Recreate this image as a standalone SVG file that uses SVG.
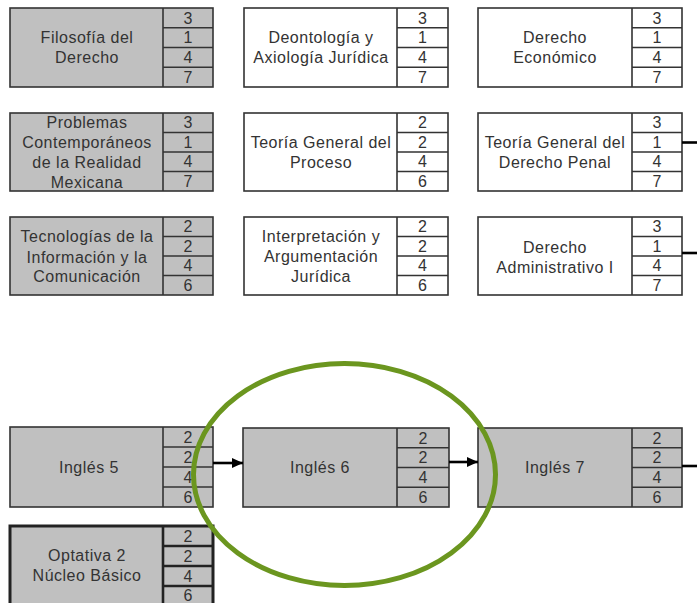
<svg xmlns="http://www.w3.org/2000/svg" width="697" height="603" viewBox="0 0 697 603">
<defs>
<style>
.g{fill:#c0c0c0}
.w{fill:#ffffff}
.bx{stroke:#333;stroke-width:1.6}
.thick{stroke:#222;stroke-width:3}
.dv{stroke:#333;stroke-width:1.6;fill:none}
text{font-family:"Liberation Sans",Arial,sans-serif;fill:#333;font-size:16px;letter-spacing:0.5px;text-anchor:middle}
.n{font-size:16px;letter-spacing:0}
.con{stroke:#000;stroke-width:2.6;fill:none}
</style>
<marker id="ah" markerUnits="userSpaceOnUse" markerWidth="12" markerHeight="10" refX="11" refY="5" orient="auto">
<path d="M0,0 L11,5 L0,10 z" fill="#000"/>
</marker>
</defs>
<rect width="697" height="603" fill="#fff"/>

<g id="n-filosofia">
<rect class="g bx" x="10" y="8" width="203" height="79"/>
<path class="dv" d="M163,8V87M163,27.75H213M163,47.5H213M163,67.25H213"/>
<text x="87" y="42.5">Filosofía del</text><text x="87" y="62.5">Derecho</text>
<text class="n" x="188" y="23.6">3</text><text class="n" x="188" y="43.3">1</text><text class="n" x="188" y="63.1">4</text><text class="n" x="188" y="82.8">7</text>
</g>

<g id="n-deontologia">
<rect class="w bx" x="244" y="8" width="204" height="79"/>
<path class="dv" d="M397,8V87M397,27.75H448M397,47.5H448M397,67.25H448"/>
<text x="321" y="42.5">Deontología y</text><text x="321" y="62.5">Axiología Jurídica</text>
<text class="n" x="422.5" y="23.6">3</text><text class="n" x="422.5" y="43.3">1</text><text class="n" x="422.5" y="63.1">4</text><text class="n" x="422.5" y="82.8">7</text>
</g>

<g id="n-economico">
<rect class="w bx" x="478" y="8" width="204" height="79"/>
<path class="dv" d="M632,8V87M632,27.75H682M632,47.5H682M632,67.25H682"/>
<text x="555" y="42.5">Derecho</text><text x="555" y="62.5">Económico</text>
<text class="n" x="657" y="23.6">3</text><text class="n" x="657" y="43.3">1</text><text class="n" x="657" y="63.1">4</text><text class="n" x="657" y="82.8">7</text>
</g>

<g id="n-problemas">
<rect class="g bx" x="10" y="113" width="203" height="78"/>
<path class="dv" d="M163,113V191M163,132.5H213M163,152H213M163,171.5H213"/>
<text x="87" y="128">Problemas</text><text x="87" y="148">Contemporáneos</text><text x="87" y="168">de la Realidad</text><text x="87" y="187.5">Mexicana</text>
<text class="n" x="188" y="128.3">3</text><text class="n" x="188" y="147.8">1</text><text class="n" x="188" y="167.3">4</text><text class="n" x="188" y="186.8">7</text>
</g>

<g id="n-proceso">
<rect class="w bx" x="244" y="113" width="204" height="78"/>
<path class="dv" d="M397,113V191M397,132.5H448M397,152H448M397,171.5H448"/>
<text x="321" y="147.5">Teoría General del</text><text x="321" y="167.5">Proceso</text>
<text class="n" x="422.5" y="128.3">2</text><text class="n" x="422.5" y="147.8">2</text><text class="n" x="422.5" y="167.3">4</text><text class="n" x="422.5" y="186.8">6</text>
</g>

<g id="n-penal">
<rect class="w bx" x="478" y="113" width="204" height="78"/>
<path class="dv" d="M632,113V191M632,132.5H682M632,152H682M632,171.5H682"/>
<text x="555" y="147.5">Teoría General del</text><text x="555" y="167.5">Derecho Penal</text>
<text class="n" x="657" y="128.3">3</text><text class="n" x="657" y="147.8">1</text><text class="n" x="657" y="167.3">4</text><text class="n" x="657" y="186.8">7</text>
</g>

<g id="n-tic">
<rect class="g bx" x="10" y="217" width="203" height="78"/>
<path class="dv" d="M163,217V295M163,236.5H213M163,256H213M163,275.5H213"/>
<text x="87" y="242">Tecnologías de la</text><text x="87" y="262.5">Información y la</text><text x="87" y="282">Comunicación</text>
<text class="n" x="188" y="232.3">2</text><text class="n" x="188" y="251.8">2</text><text class="n" x="188" y="271.3">4</text><text class="n" x="188" y="290.8">6</text>
</g>

<g id="n-interpretacion">
<rect class="w bx" x="244" y="217" width="204" height="78"/>
<path class="dv" d="M397,217V295M397,236.5H448M397,256H448M397,275.5H448"/>
<text x="321" y="242">Interpretación y</text><text x="321" y="262">Argumentación</text><text x="321" y="282">Jurídica</text>
<text class="n" x="422.5" y="232.3">2</text><text class="n" x="422.5" y="251.8">2</text><text class="n" x="422.5" y="271.3">4</text><text class="n" x="422.5" y="290.8">6</text>
</g>

<g id="n-administrativo">
<rect class="w bx" x="478" y="217" width="204" height="78"/>
<path class="dv" d="M632,217V295M632,236.5H682M632,256H682M632,275.5H682"/>
<text x="555" y="253">Derecho</text><text x="555" y="273">Administrativo I</text>
<text class="n" x="657" y="232.3">3</text><text class="n" x="657" y="251.8">1</text><text class="n" x="657" y="271.3">4</text><text class="n" x="657" y="290.8">7</text>
</g>

<g id="n-ingles5">
<rect class="g bx" x="10" y="427" width="203" height="80"/>
<path class="dv" d="M163,427V507M163,447H213M163,467H213M163,487H213"/>
<text x="89" y="473">Inglés 5</text>
<text class="n" x="188" y="442.8">2</text><text class="n" x="188" y="462.8">2</text><text class="n" x="188" y="482.8">4</text><text class="n" x="188" y="502.8">6</text>
</g>

<g id="n-ingles6">
<rect class="g bx" x="243" y="428" width="206" height="79"/>
<path class="dv" d="M397,428V507M397,447.75H449M397,467.5H449M397,487.25H449"/>
<text x="320" y="473">Inglés 6</text>
<text class="n" x="423" y="443.6">2</text><text class="n" x="423" y="463.3">2</text><text class="n" x="423" y="483.1">4</text><text class="n" x="423" y="502.8">6</text>
</g>

<g id="n-ingles7">
<rect class="g bx" x="478" y="428" width="204" height="79"/>
<path class="dv" d="M632,428V507M632,447.75H682M632,467.5H682M632,487.25H682"/>
<text x="555" y="473">Inglés 7</text>
<text class="n" x="657" y="443.6">2</text><text class="n" x="657" y="463.3">2</text><text class="n" x="657" y="483.1">4</text><text class="n" x="657" y="502.8">6</text>
</g>

<g id="n-optativa2">
<rect class="g thick" x="10" y="526" width="203" height="80"/>
<path class="dv" style="stroke:#222;stroke-width:2.6" d="M163,526V606M163,546H213M163,566H213M163,586H213"/>
<text x="87" y="561">Optativa 2</text><text x="87" y="581">Núcleo Básico</text>
<text class="n" x="188" y="541.8">2</text><text class="n" x="188" y="561.8">2</text><text class="n" x="188" y="581.8">4</text><text class="n" x="188" y="600.5">6</text>
</g>

<g id="connectors">
<path class="con" d="M213,463H243" marker-end="url(#ah)"/>
<path class="con" d="M449,462H478" marker-end="url(#ah)"/>
<path class="con" d="M682,466H697"/>
<path class="con" d="M682,142.5H697"/>
<path class="con" d="M682,253H697"/>
</g>

<ellipse cx="344.5" cy="474.5" rx="151" ry="111" fill="none" stroke="#6b961f" stroke-width="5"/>
</svg>
